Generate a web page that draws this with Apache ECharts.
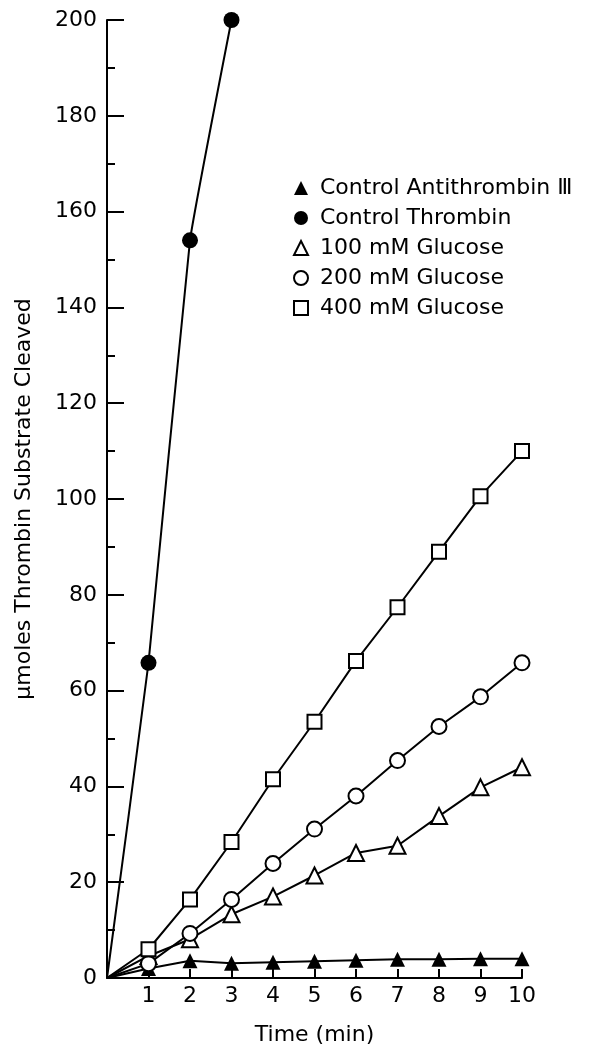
<!DOCTYPE html>
<html>
<head>
<meta charset="utf-8">
<script src="https://cdn.jsdelivr.net/npm/echarts@6/dist/echarts.min.js"></script>
<style>
  html, body { margin: 0; padding: 0; background: #fff; }
  #chart { width: 592px; height: 1051px; }
</style>
</head>
<body>
<div id="chart"></div>
<script>
// time points (min)
const timeMin = [0, 1, 2, 3, 4, 5, 6, 7, 8, 9, 10]
const thrombinTime = [0, 1, 2, 3]

// umoles substrate cleaved
const antithrombin = [0, 2, 3.6, 3.1, 3.3, 3.5, 3.7, 3.9, 3.9, 4, 4]
const thrombin = [0, 65.8, 154, 200]
const glucose100 = [0, 4.6, 8.1, 13.3, 17, 21.4, 26.1, 27.6, 33.8, 39.8, 44]
const glucose200 = [0, 3, 9.3, 16.4, 23.9, 31.1, 38, 45.4, 52.5, 58.7, 65.8]
const glucose400 = [0, 6, 16.4, 28.4, 41.5, 53.5, 66.2, 77.4, 89, 100.6, 110]

const seriesNames = ['Control Antithrombin Ⅲ', 'Control Thrombin', '100 mM Glucose', '200 mM Glucose', '400 mM Glucose']

const font = 'DejaVu Sans'
const fs = 22

// pair x with y, no marker at the origin
function pts(xs, ys) {
  return xs.map((x, i) => i === 0 ? { value: [x, ys[i]], symbol: 'none' } : [x, ys[i]])
}

function lineSeries(name, data, symbol, size, filled, smooth) {
  return {
    name: name,
    type: 'line',
    data: data,
    smooth: smooth || false,
    symbol: symbol,
    symbolSize: size,
    lineStyle: { color: '#000', width: 2 },
    itemStyle: { color: filled ? '#000' : '#fff', borderColor: '#000', borderWidth: filled ? 0 : 2 },
    z: 3
  }
}

const chart = echarts.init(document.getElementById('chart'))
chart.setOption({
  backgroundColor: '#fff',
  animation: false,
  textStyle: { fontFamily: font, color: '#000' },
  grid: { left: 107, right: 70, top: 20, bottom: 66 },
  legend: {
    orient: 'vertical',
    left: 288,
    top: 172,
    itemGap: 8,
    itemWidth: 14,
    itemHeight: 14,
    textStyle: { fontFamily: font, fontSize: fs, color: '#000', padding: [0, 0, 0, 7] },
    data: [
      { name: seriesNames[0], icon: 'triangle' },
      { name: seriesNames[1], icon: 'circle' },
      { name: seriesNames[2], icon: 'triangle' },
      { name: seriesNames[3], icon: 'circle' },
      { name: seriesNames[4], icon: 'rect' }
    ]
  },
  xAxis: {
    type: 'value',
    min: 0,
    max: 10,
    interval: 1,
    name: 'Time (min)',
    nameLocation: 'middle',
    nameGap: 46,
    nameTextStyle: { fontFamily: font, fontSize: fs, color: '#000' },
    axisLine: { onZero: false, lineStyle: { color: '#000', width: 2 } },
    axisTick: { inside: true, length: 9, lineStyle: { color: '#000', width: 2 } },
    axisLabel: {
      fontFamily: font, fontSize: fs, color: '#000', margin: 7,
      formatter: v => v === 0 ? '' : String(v)
    },
    splitLine: { show: false }
  },
  yAxis: {
    type: 'value',
    min: 0,
    max: 200,
    interval: 20,
    name: 'μmoles Thrombin Substrate Cleaved',
    nameLocation: 'middle',
    nameGap: 72,
    nameRotate: 90,
    nameTextStyle: { fontFamily: font, fontSize: fs, color: '#000' },
    axisLine: { show: true, onZero: false, lineStyle: { color: '#000', width: 2 } },
    axisTick: { show: true, inside: true, length: 17, lineStyle: { color: '#000', width: 2 } },
    minorTick: { show: true, splitNumber: 2, length: 8, lineStyle: { color: '#000', width: 2 } },
    axisLabel: { fontFamily: font, fontSize: fs, color: '#000', margin: 10 },
    splitLine: { show: false }
  },
  series: [
    lineSeries(seriesNames[0], pts(timeMin, antithrombin), 'triangle', 15, true),
    lineSeries(seriesNames[1], pts(thrombinTime, thrombin), 'circle', 16, true, 0.1),
    lineSeries(seriesNames[2], pts(timeMin, glucose100), 'triangle', 16, false),
    lineSeries(seriesNames[3], pts(timeMin, glucose200), 'circle', 15, false),
    lineSeries(seriesNames[4], pts(timeMin, glucose400), 'rect', 14, false)
  ]
})
</script>
</body>
</html>
